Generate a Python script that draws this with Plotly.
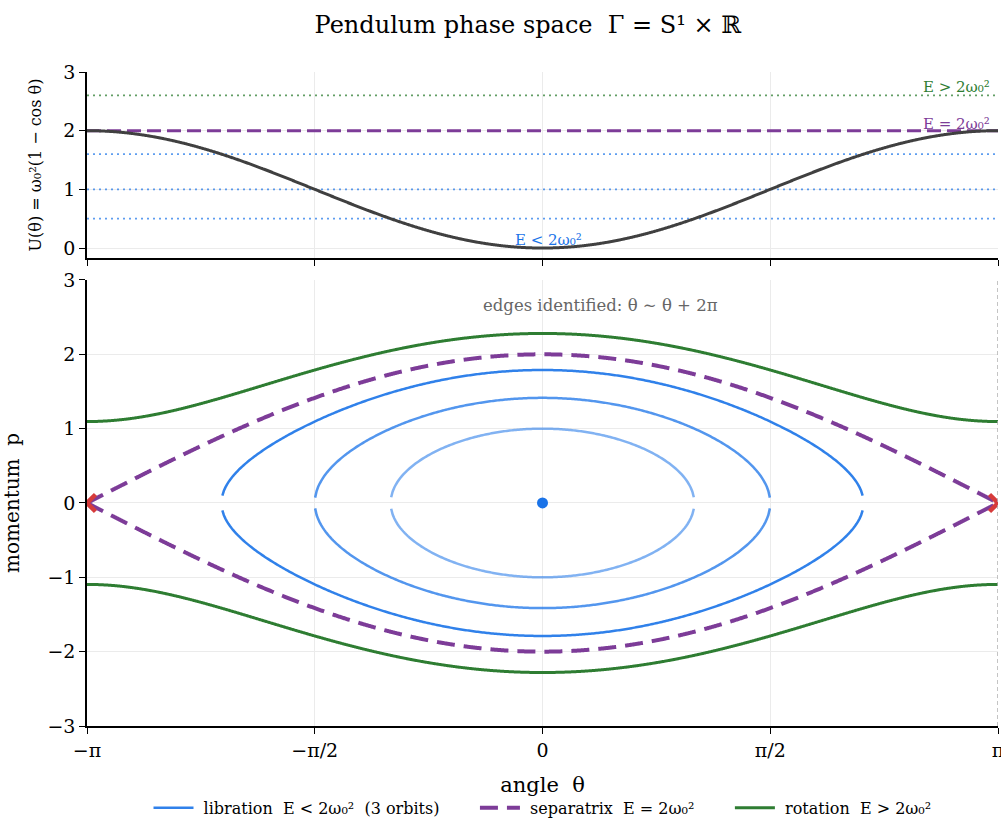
import numpy as np
import plotly.graph_objects as go

# ---- data (ω0 = 1) ----
libration_E = [0.5, 1.0, 1.6]          # libration orbit energies
libration_alpha = [0.55, 0.75, 0.9]
separatrix_E = 2.0
rotation_E = 2.6
x_tickvals = [-np.pi, -np.pi/2, 0, np.pi/2, np.pi]
x_ticktext = ["−π", "−π/2", "0", "π/2", "π"]
top_yticks = [0, 1, 2, 3]
bot_yticks = [-3, -2, -1, 0, 1, 2, 3]
saddle_theta = [-np.pi, np.pi]
saddle_p = [0, 0]
center_theta = [0]
center_p = [0]

BLUE = "#1a73e8"
PURPLE = "#7d3c98"
GREEN = "#2e7d32"
RED = "#d63b3b"
GRID = "#ebebeb"
FONT = "DejaVu Serif"
NB = "\u00a0"

theta = np.linspace(-np.pi, np.pi, 1400)
U = 1 - np.cos(theta)

fig = go.Figure()

def rgba(hexc, a):
    h = hexc.lstrip("#")
    r, g, b = int(h[0:2], 16), int(h[2:4], 16), int(h[4:6], 16)
    return f"rgba({r},{g},{b},{a})"

# ---- top panel: potential ----
for E in libration_E:
    fig.add_trace(go.Scatter(x=[-np.pi, np.pi], y=[E, E], mode="lines",
                             line=dict(color=rgba(BLUE, 0.7), width=1.8, dash="2px,4px"),
                             xaxis="x2", yaxis="y2", showlegend=False, hoverinfo="skip"))
fig.add_trace(go.Scatter(x=[-np.pi, np.pi], y=[rotation_E, rotation_E], mode="lines",
                         line=dict(color=rgba(GREEN, 0.75), width=1.8, dash="2px,4px"),
                         xaxis="x2", yaxis="y2", showlegend=False, hoverinfo="skip"))
fig.add_trace(go.Scatter(x=[-np.pi, np.pi], y=[separatrix_E, separatrix_E], mode="lines",
                         line=dict(color=PURPLE, width=3, dash="14px,6px"),
                         xaxis="x2", yaxis="y2", showlegend=False, hoverinfo="skip"))
fig.add_trace(go.Scatter(x=theta, y=U, mode="lines",
                         line=dict(color="#404040", width=3, simplify=False),
                         xaxis="x2", yaxis="y2", showlegend=False, hoverinfo="skip"))

# ---- bottom panel: phase portrait ----
def branch(E, th):
    d = 2 * (E - (1 - np.cos(th)))
    return np.where(d >= 0, np.sqrt(np.clip(d, 0, None)), np.nan)

grid_theta = np.linspace(-np.pi, np.pi, 600)

for i, (E, a) in enumerate(zip(libration_E, libration_alpha)):
    p = branch(E, grid_theta)
    xs = np.concatenate([grid_theta, [np.nan], grid_theta])
    ys = np.concatenate([p, [np.nan], -p])
    fig.add_trace(go.Scatter(x=xs, y=ys, mode="lines", connectgaps=False,
                             line=dict(color=rgba(BLUE, a), width=2.5, simplify=False),
                             name=NB + "libration  E < 2ω₀²  (3 orbits)" + NB * 6,
                             showlegend=(i == 2), legendrank=1,
                             xaxis="x", yaxis="y", hoverinfo="skip"))

ps = branch(separatrix_E, theta)
fig.add_trace(go.Scatter(x=np.concatenate([theta, [np.nan], theta]),
                         y=np.concatenate([ps, [np.nan], -ps]), mode="lines",
                         line=dict(color=PURPLE, width=4, dash="18px,9px", simplify=False),
                         name=NB + "separatrix  E = 2ω₀²" + NB * 6, legendrank=2,
                         xaxis="x", yaxis="y", hoverinfo="skip"))
pr = branch(rotation_E, theta)
fig.add_trace(go.Scatter(x=np.concatenate([theta, [np.nan], theta]),
                         y=np.concatenate([pr, [np.nan], -pr]), mode="lines",
                         line=dict(color=GREEN, width=3, simplify=False),
                         name=NB + "rotation  E > 2ω₀²", legendrank=3,
                         xaxis="x", yaxis="y", hoverinfo="skip"))

fig.add_trace(go.Scatter(x=saddle_theta, y=saddle_p, mode="markers",
                         marker=dict(symbol="x-thin", size=17, color=RED,
                                     line=dict(color=RED, width=4.5)),
                         showlegend=False, cliponaxis=True,
                         xaxis="x", yaxis="y", hoverinfo="skip"))
fig.add_trace(go.Scatter(x=center_theta, y=center_p, mode="markers",
                         marker=dict(symbol="circle", size=11, color=BLUE),
                         showlegend=False, xaxis="x", yaxis="y", hoverinfo="skip"))

# dashed edge marker at θ = π
fig.add_shape(type="line", x0=np.pi, x1=np.pi, y0=-3, y1=3, xref="x", yref="y",
              line=dict(color="#b0b0b0", width=1.5, dash="4px,3px"))

# ---- annotations ----
fig.add_annotation(x=np.pi, y=rotation_E, xref="x2", yref="y2", text="E > 2ω₀²",
                   showarrow=False, xanchor="right", yanchor="bottom", yshift=-3, xshift=-6,
                   font=dict(family=FONT, size=15, color=GREEN))
fig.add_annotation(x=np.pi, y=separatrix_E, xref="x2", yref="y2", text="E = 2ω₀²",
                   showarrow=False, xanchor="right", yanchor="bottom", yshift=-4, xshift=-6,
                   font=dict(family=FONT, size=15, color=PURPLE))
fig.add_annotation(x=0.04, y=0.0, xref="x2", yref="y2", text="E < 2ω₀²",
                   showarrow=False, xanchor="center", yanchor="bottom", yshift=-3,
                   font=dict(family=FONT, size=15, color=BLUE))
fig.add_annotation(x=0.4, y=2.65, xref="x", yref="y", text="edges identified: θ ∼ θ + 2π",
                   showarrow=False, xanchor="center", yanchor="middle",
                   font=dict(family=FONT, size=16.5, color="#666666"))

axis_common = dict(showgrid=True, gridcolor=GRID, gridwidth=1, zeroline=False,
                   showline=True, linecolor="black", linewidth=1.5,
                   ticks="outside", ticklen=6, tickwidth=1.2, tickcolor="black",
                   automargin=False, ticklabeloverflow="allow",
                   tickfont=dict(family=FONT, size=19, color="black"))

fig.update_layout(
    width=1001, height=818,
    margin=dict(l=87, r=3, t=72, b=92, autoexpand=False),
    paper_bgcolor="white", plot_bgcolor="white",
    title=dict(text="Pendulum phase space  Γ = S¹ × ℝ", x=0.484, xref="paper",
               xanchor="center", y=0.97, yanchor="middle",
               font=dict(family=FONT, size=24, color="black")),
    xaxis=dict(domain=[0, 1], anchor="y", range=[-np.pi, np.pi],
               tickvals=x_tickvals, ticktext=x_ticktext,
               title=dict(text="angle  θ", font=dict(family=FONT, size=21, color="black"),
                          standoff=18),
               **axis_common),
    yaxis=dict(domain=[0, 0.682], anchor="x", range=[-3, 3], tickvals=bot_yticks,
               ticktext=[str(v).replace("-", "−") for v in bot_yticks],
               title=dict(text="momentum  p", font=dict(family=FONT, size=20, color="black"),
                          standoff=22),
               **axis_common),
    xaxis2=dict(domain=[0, 1], anchor="y2", range=[-np.pi, np.pi],
                tickvals=x_tickvals, showticklabels=False, matches="x",
                **axis_common),
    yaxis2=dict(domain=[0.7156, 1], anchor="x2", range=[-0.17, 3], tickvals=top_yticks,
                title=dict(text="U(θ) = ω₀²(1 − cos θ)",
                           font=dict(family=FONT, size=16, color="black"), standoff=18),
                **axis_common),
    legend=dict(orientation="h", x=0.5, xanchor="center", y=-0.125, yanchor="middle",
                font=dict(family=FONT, size=16, color="black"),
                bgcolor="rgba(0,0,0,0)", itemwidth=40, traceorder="normal"),
    showlegend=True,
)

fig.write_html("out.html", config={"displayModeBar": False},
               post_script="document.body.style.margin='0';")
